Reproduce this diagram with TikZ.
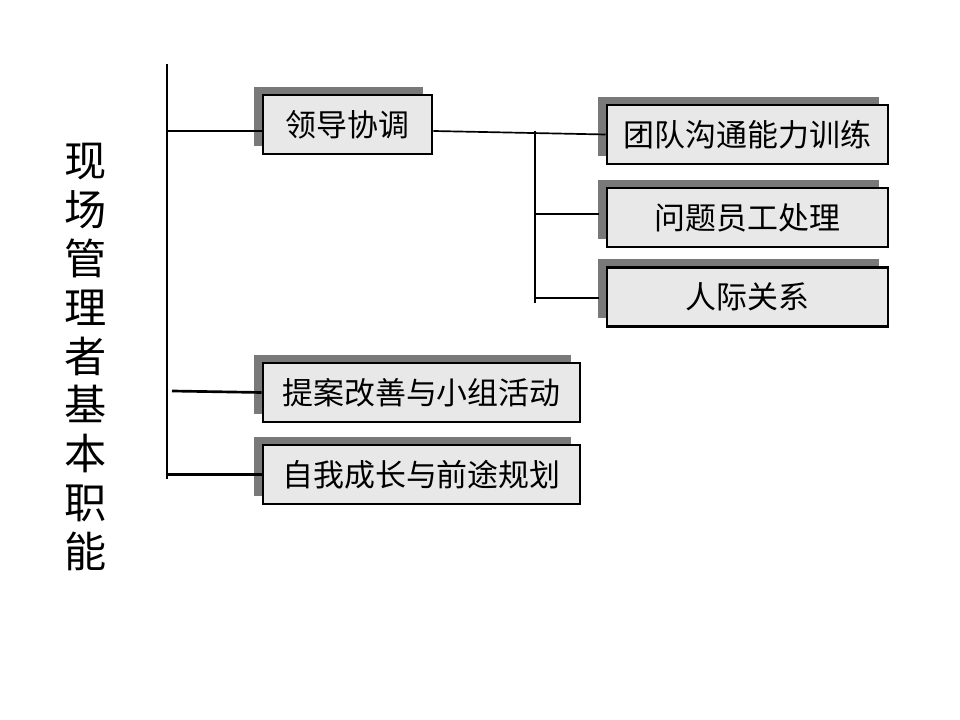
\documentclass[tikz,border=0pt]{standalone}
\usepackage{fontspec}
\newfontfamily\cjk{Noto Sans CJK SC}
\usetikzlibrary{shadows}

\begin{document}
\begin{tikzpicture}[x=0.025cm,y=-0.025cm,line width=1.9pt,
  duty/.style={draw,line width=2.1pt,fill=gray!18,minimum height=59*0.025cm,
    inner sep=0pt,font=\cjk\fontsize{22}{26}\selectfont,
    drop shadow={shadow xshift=-0.225cm,shadow yshift=0.2cm,opacity=1,fill=gray!95!black}}]
  \useasboundingbox (0,0) rectangle (960,720);
  % title
  \node[font=\cjk\fontsize{30}{34.7}\selectfont,align=center] (title) at (86,357)
    {现\\场\\管\\理\\者\\基\\本\\职\\能};
  % trunk
  \coordinate (top) at (167,64);
  \coordinate (bot) at (167,479);
  \draw (top) -- (bot);
  % first level
  \node[duty,minimum width=169*0.025cm] (lead) at (347.5,124.5) {领导协调};
  \node[duty,minimum width=317*0.025cm] (prop) at (421.5,392.5) {提案改善与小组活动};
  \node[duty,minimum width=317*0.025cm] (grow) at (421.5,474.5) {自我成长与前途规划};
  % second level
  \node[duty,minimum width=281*0.025cm] (team) at (747.5,134.5) {团队沟通能力训练};
  \node[duty,minimum width=281*0.025cm] (staff) at (747.5,217.5) {问题员工处理};
  \node[duty,minimum width=281*0.025cm] (rel) at (747.5,297) {人际关系};
  % branches from trunk
  \draw (top |- 0,131) -- (lead.west |- 0,131);
  \draw (172,391) -- (prop.west);
  \draw (grow.west) -- (grow.west -| bot);
  % branches of the lead box
  \coordinate (fork) at (535,131);
  \draw[line width=1.2pt] (lead.east |- fork) -- (team.west);
  \draw (fork) -- (535,303);
  \draw (535,214) -- ([xshift=-0.175cm]staff.west |- 0,214);
  \draw (535,298) -- ([xshift=-0.175cm]rel.west |- 0,298);
\end{tikzpicture}
\end{document}
